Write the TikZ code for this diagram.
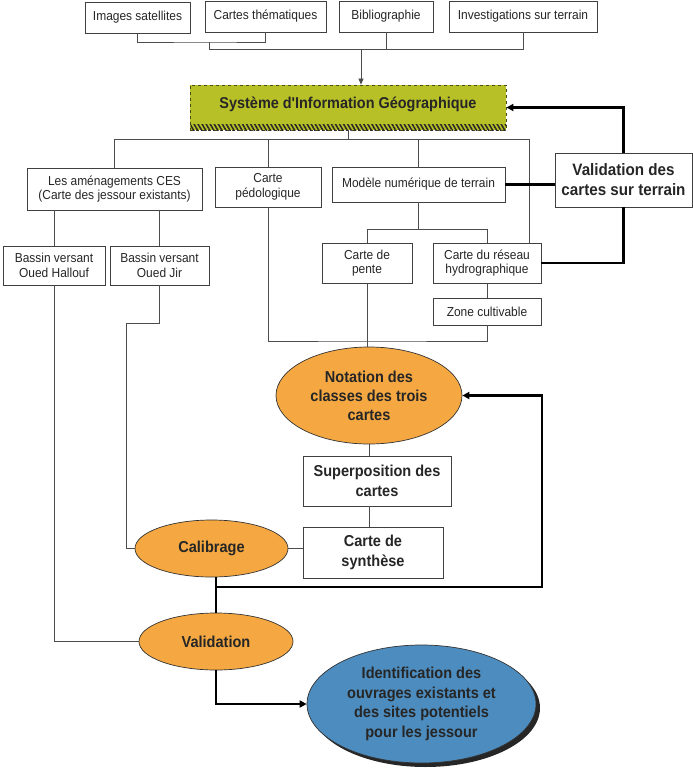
\documentclass[tikz,border=0pt]{standalone}
\usepackage{fontspec}
\setmainfont[FakeStretch=0.92, Ligatures=TeXOff]{Liberation Sans}
\usetikzlibrary{calc,patterns.meta,shapes.geometric,shadows,arrows.meta}
\definecolor{sigvert}{RGB}{184,192,40}
\definecolor{orangeov}{RGB}{245,168,66}
\definecolor{bleuov}{RGB}{77,140,190}
\tikzset{
	boite/.style={draw=black!75, line width=0.8pt, fill=white, align=center, inner sep=1pt, text=black!85, font=\fontsize{13}{14.5}\selectfont},
	grosse/.style={boite, font=\fontsize{15.8}{19.5}\selectfont\bfseries},
	ovale/.style={ellipse, draw=black!80, line width=0.7pt, fill=orangeov, align=center, inner sep=0pt, text=black!85, font=\fontsize{15.8}{19}\selectfont\bfseries},
	lien/.style={draw=black!70, line width=0.7pt},
	gras/.style={draw=black, line width=2.2pt},
	fleche/.style={gras, -{Triangle[length=7pt,width=7pt]}},
}

\begin{document}
\begin{tikzpicture}[x=1pt,y=-1pt]
		%%%%% START %%%%%
		\useasboundingbox (0,0) rectangle (693,768);
		
		\node[boite, minimum width=105, minimum height=31] (sat) at (137.5,17.5) {Images satellites};
		\node[boite, minimum width=121, minimum height=31] (them) at (265.5,16.5) {Cartes thématiques};
		\node[boite, minimum width=94, minimum height=31] (biblio) at (386,16.5) {Bibliographie};
		\node[boite, minimum width=148, minimum height=31] (invest) at (523,16.5) {Investigations sur terrain};
		
		\node[draw=black!60!sigvert, dashed, line width=0.8pt, fill=sigvert, minimum width=316, minimum height=45, text height=11pt, text depth=10pt, text=black!85, font=\fontsize{15.7}{17}\selectfont\bfseries] (sig) at (348,107.5) {Système d'Information Géographique};
		\fill[pattern={Lines[angle=-60,distance=3.5pt,line width=1.5pt]}, pattern color=black!85] ($(sig.south west)+(1,0)$) rectangle ($(sig.south east)+(0,-6)$);
		
		\node[boite, minimum width=175, minimum height=42] (amen) at (114.5,189) {Les aménagements CES\\(Carte des jessour existants)};
		\node[boite, minimum width=106, minimum height=40] (pedo) at (268,187) {Carte\\pédologique};
		\node[boite, minimum width=173, minimum height=35] (mnt) at (418.5,184.5) {Modèle numérique de terrain};
		\node[boite, minimum width=137, minimum height=54, font=\fontsize{16.5}{20}\selectfont\bfseries] (valid) at (623.5,180) {Validation des\\cartes sur terrain};
		
		\node[boite, minimum width=102, minimum height=39] (hallouf) at (54,265.5) {Bassin versant\\Oued Hallouf};
		\node[boite, minimum width=99, minimum height=39] (jir) at (159.5,265.5) {Bassin versant\\Oued Jir};
		\node[boite, minimum width=90, minimum height=40] (pente) at (367,263) {Carte de\\pente};
		\node[boite, minimum width=108, minimum height=40] (reseau) at (487,263) {Carte du réseau\\hydrographique};
		\node[boite, minimum width=108, minimum height=27] (zone) at (487,311.5) {Zone cultivable};
		
		\node[ovale, minimum width=186, minimum height=97] (notation) at (369,395.5) {Notation des\\classes des trois\\cartes};
		\node[grosse, minimum width=148, minimum height=50] (superp) at (377,481) {Superposition des\\cartes};
		\node[grosse, minimum width=140, minimum height=51] (synth) at (373,552.5) {Carte de\\synthèse};
		\node[ovale, minimum width=153, minimum height=57] (calib) at (211.5,548.5) {Calibrage};
		\node[ovale, minimum width=154, minimum height=57] (valid2) at (216,641.5) {Validation};
		\node[ovale, fill=bleuov, minimum width=229, minimum height=118, font=\fontsize{15.8}{19.5}\selectfont\bfseries, drop shadow={shadow xshift=4pt, shadow yshift=-4pt, fill=black!85, opacity=1}] (ident) at (421.5,704) {Identification des\\ouvrages existants et\\des sites potentiels\\pour les jessour};
		
		\coordinate (b1) at (209,42);
		\coordinate (b2) at (361,49);
		\coordinate (row) at (0,139);
		\coordinate (r1) at (529,139);
		\coordinate (c1) at (367,341);
		\coordinate (loop) at (216,587);
		
		\draw[lien] (sat.south) |- (b1) -| (them.south);
		\draw[lien] (b1) -- ++(0,7) -| (invest.south);
		\draw[lien] (biblio.south) |- (b2);
		\draw[lien, -{Triangle[length=6pt,width=5pt]}] (b2) -- (b2 |- sig.north);
		
		\draw[lien] (sig.south) -- (sig.south |- row);
		\draw[lien] (amen.north) |- (r1) -- (r1 |- reseau.north);
		\draw[lien] (pedo.north) -- (pedo.north |- row);
		\draw[lien] (mnt.north) -- (mnt.north |- row);
		
		\draw[lien] (hallouf.north |- amen.south) -- (hallouf.north);
		\draw[lien] (jir.north |- amen.south) -- (jir.north);
		\draw[lien] (mnt.south) -- ++(0,27) coordinate (m1);
		\draw[lien] (pente.north) |- (m1) -| (reseau.north);
		\draw[lien] (reseau) -- (zone);
		
		\draw[lien] (pedo.south) |- (c1) -| (zone.south);
		\draw[lien] (pente.south) -- (pente.south |- notation.north);
		\draw[lien] (notation.south) -- (notation.south |- superp.north);
		\draw[lien] (notation.south |- superp.south) -- (notation.south |- synth.north);
		\draw[lien] (synth.west |- calib.east) -- (calib.east);
		\draw[lien] (jir.south) -- ++(0,38) -| ([xshift=-8pt]calib.west) -- (calib.west);
		\draw[lien] (hallouf.south) |- (valid2.west);
		
		\draw[gras] (mnt.east) -- (mnt.east -| valid.west);
		\draw[fleche] (valid.north) |- (sig.east);
		\draw[gras] (valid.south) |- (reseau.east);
		\draw[gras] (valid2.north |- calib.south) -- (valid2.north);
		\draw[fleche] (loop) -| ([xshift=80pt]notation.east) -- (notation.east);
		\draw[fleche] (valid2.south) |- (ident.west);
		
		%%%%% END %%%%%
\end{tikzpicture}
\end{document}
